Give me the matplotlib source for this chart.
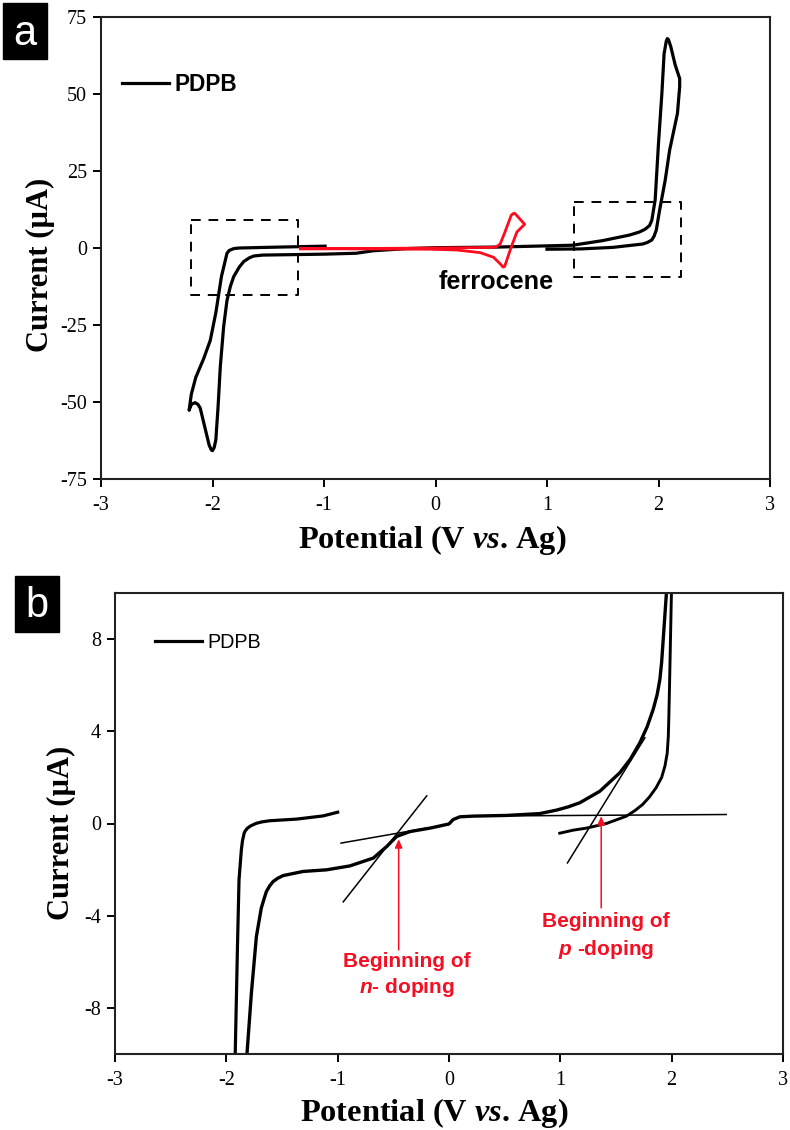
import matplotlib
matplotlib.use("Agg")
import matplotlib.pyplot as plt

plt.rcParams["font.family"] = "Liberation Sans"
plt.rcParams["axes.unicode_minus"] = False
plt.rcParams["mathtext.fontset"] = "custom"
plt.rcParams["mathtext.it"] = "Liberation Sans:italic:bold"
plt.rcParams["mathtext.bfit"] = "Liberation Serif:italic:bold"

# --- panel a ---
a_v = [-0.99, -1.4, -1.76, -1.81, -1.85, -1.87, -1.92, -1.97, -2.02, -2.08, -2.15, -2.19, -2.21, -2.19, -2.157, -2.13,
       -2.11, -2.07, -2.03, -2.01, -2.0, -1.985, -1.97, -1.95, -1.93, -1.90, -1.87, -1.84, -1.81, -1.76, -1.72, -1.67,
       -1.63, -1.55, -1.0, -0.71, -0.56, -0.26,
       0.0, 0.55, 1.23, 1.50, 1.74, 1.83, 1.88, 1.92, 1.94, 1.97, 2.0, 2.03, 2.05, 2.07, 2.08, 2.09, 2.11, 2.15, 2.19,
       2.19, 2.17, 2.10, 2.06, 2.01, 1.98, 1.96, 1.94, 1.90, 1.86, 1.59, 1.30, 1.0]
a_i = [0.6, 0.3, 0.0, -0.2, -0.8, -1.7, -9.3, -21, -30, -36, -42, -47.5, -52.7, -50.8, -50.2, -50.8,
       -52, -58, -64, -65.6, -65.8, -64.8, -62.3, -51.5, -38.5, -25.5, -17, -12.5, -9.3, -6.2, -4.4, -3.2,
       -2.6, -2.3, -2.0, -1.7, -0.9, -0.2,
       0.1, 0.3, 0.9, 2.4, 4.2, 5.2, 6.1, 7.3, 9, 15.6, 34, 50, 63, 67.2, 68, 67.6, 65.4, 59.4, 55,
       52.4, 43.7, 31.8, 22, 12.3, 5.8, 3.8, 2.6, 1.8, 1.3, 0.2, -0.3, -0.4]
fc_v = [-1.21, 0.0, 0.52, 0.55, 0.58, 0.62, 0.68, 0.70, 0.71, 0.80, 0.73, 0.68, 0.62, 0.605, 0.59, 0.52, 0.40, 0.19,
        -0.05, -1.21]
fc_i = [-0.3, 0.0, 0.2, 0.5, 1.3, 4.9, 10.7, 11.2, 11.3, 7.7, 5.2, 0.4, -6, -6.2, -5.5, -3, -1.5, -0.65, -0.4, -0.2]
box_l_v = [-2.19, -1.23, -1.23, -2.19, -2.19]
box_l_i = [9.1, 9.1, -15.2, -15.2, 9.1]
box_r_v = [1.24, 2.20, 2.20, 1.24, 1.24]
box_r_i = [14.8, 14.8, -9.3, -9.3, 14.8]

# --- panel b ---
b_v = [-1.0, -1.13, -1.37, -1.61, -1.68, -1.73, -1.78, -1.81, -1.83, -1.84, -1.855, -1.865, -1.886, -1.90, -1.92,
       -1.95]
b_i = [0.49, 0.33, 0.19, 0.12, 0.07, 0.01, -0.1, -0.2, -0.32, -0.42, -0.75, -1.14, -2.44, -5.34, -9.96, -10.5]
b_ret_v = [-1.80, -1.814, -1.775, -1.73, -1.686, -1.66, -1.64, -1.61, -1.58, -1.54, -1.49, -1.31, -1.10, -0.89, -0.68,
           -0.56, -0.47, -0.35, -0.17, 0.0, 0.037, 0.097, 0.216, 0.516, 0.815, 0.965, 1.07, 1.175, 1.355, 1.534, 1.63,
           1.714, 1.78, 1.834, 1.87, 1.894, 1.91, 1.924, 1.96]
b_ret_i = [-10.5, -9.96, -7.36, -4.9, -3.67, -3.25, -2.95, -2.7, -2.52, -2.38, -2.26, -2.08, -2.01, -1.84, -1.5,
           -1.0, -0.56, -0.35, -0.2, -0.02, 0.17, 0.29, 0.32, 0.35, 0.43, 0.58, 0.72, 0.9, 1.4, 2.2, 2.8,
           3.5, 4.2, 4.95, 5.6, 6.25, 7.0, 7.98, 10.5]
b_p_v = [2.0, 1.98, 1.975, 1.97, 1.96, 1.94, 1.91, 1.86, 1.80, 1.74, 1.67, 1.594, 1.414, 1.235, 1.115, 0.995]
b_p_i = [10.5, 5.8, 4.7, 3.8, 3.05, 2.5, 2.0, 1.55, 1.15, 0.83, 0.56, 0.32, 0.0, -0.2, -0.29, -0.42]
tan_n_base_v, tan_n_base_i = [-0.97, -0.2], [-0.85, -0.2]
tan_n_v, tan_n_i = [-0.95, -0.2], [-3.4, 1.2]
tan_p_v, tan_p_i = [1.064, 1.76], [-1.71, 3.72]
tan_h_v, tan_h_i = [0.5, 2.49], [0.33, 0.39]

W, H = 790, 1130
RED = "#f50f23"


def px_axes(fig, left, top, right, bottom):
    return fig.add_axes([left / W, 1 - bottom / H, (right - left) / W, (bottom - top) / H])


def style(ax):
    for s in ax.spines.values():
        s.set_linewidth(1.5)
        s.set_color("#222222")
    ax.tick_params(direction="out", length=6, width=1.4, pad=4)
    ax.tick_params(axis="x", pad=6)
    for lab in ax.get_xticklabels() + ax.get_yticklabels():
        lab.set_family("Liberation Serif")
        lab.set_fontsize(14.5)


def labels(ax):
    ax.set_xlabel(r"Potential (V $\mathbfit{vs}$. Ag)", family="Liberation Serif", weight="bold", fontsize=23.3)
    ax.set_ylabel("Current (µA)", family="Liberation Serif", weight="bold", fontsize=22)


fig = plt.figure(figsize=(W / 100, H / 100), dpi=100)

# panel a
ax = px_axes(fig, 101, 17, 770, 479)
ax.plot(a_v, a_i, color="black", lw=2.3, label="PDPB", solid_joinstyle="round")
ax.plot(fc_v, fc_i, color="#ff0a1e", lw=2.0, solid_joinstyle="round")
for v, i in [(box_l_v, box_l_i), (box_r_v, box_r_i)]:
    ax.plot(v, i, color="black", lw=1.4, ls=(0, (5, 4)))
ax.set_xlim(-3, 3)
ax.set_ylim(-75, 75)
ax.set_xticks([-3, -2, -1, 0, 1, 2, 3])
ax.set_yticks([-75, -50, -25, 0, 25, 50, 75])
style(ax)
labels(ax)
ax.xaxis.set_label_coords((432 - 101) / 669, -44 / 462)
ax.yaxis.set_label_coords((55 - 101) / 669, 0.463)
ax.legend(loc="upper left", bbox_to_anchor=(0.031, 0.878), frameon=False, handlelength=2.08, handletextpad=0.27,
          borderpad=0, borderaxespad=0, prop={"family": "Liberation Sans", "weight": "bold", "size": 16.3})
ax.text(0.54, -11.0, "ferrocene", fontsize=18.2, fontweight="bold", ha="center", va="center")

# panel b
ax = px_axes(fig, 115, 593, 783, 1054)
ax.plot(b_v, b_i, color="black", lw=2.3, label="PDPB", solid_joinstyle="round")
ax.plot(b_ret_v, b_ret_i, color="black", lw=2.4, solid_joinstyle="round")
ax.plot(b_p_v, b_p_i, color="black", lw=2.1, solid_joinstyle="round")
for v, i in [(tan_n_base_v, tan_n_base_i), (tan_n_v, tan_n_i), (tan_p_v, tan_p_i), (tan_h_v, tan_h_i)]:
    ax.plot(v, i, color="black", lw=1.1)
ax.annotate("", xy=(-0.452, -0.68), xytext=(-0.452, -5.48),
            arrowprops=dict(arrowstyle="-|>,head_width=0.22,head_length=0.5", color=RED, lw=1.1, shrinkA=0, shrinkB=0))
ax.annotate("", xy=(1.367, 0.32), xytext=(1.367, -3.66),
            arrowprops=dict(arrowstyle="-|>,head_width=0.22,head_length=0.5", color=RED, lw=1.1, shrinkA=0, shrinkB=0))
ax.text(-0.375, -6.0, "Beginning of", color=RED, fontsize=15, fontweight="bold", ha="center", va="center")
ax.text(-0.375, -7.1, r"$\mathit{n}$- doping", color=RED, fontsize=15, fontweight="bold", ha="center", va="center")
ax.text(1.41, -4.27, "Beginning of", color=RED, fontsize=15, fontweight="bold", ha="center", va="center")
ax.text(1.41, -5.45, r"$\mathit{p}$ -doping", color=RED, fontsize=15, fontweight="bold", ha="center", va="center")
ax.set_xlim(-3, 3)
ax.set_ylim(-10, 10)
ax.set_xticks([-3, -2, -1, 0, 1, 2, 3])
ax.set_yticks([-8, -4, 0, 4, 8])
style(ax)
labels(ax)
ax.xaxis.set_label_coords((434 - 115) / 668, -42 / 461)
ax.yaxis.set_label_coords((76 - 115) / 668, 0.479)
ax.legend(loc="upper left", bbox_to_anchor=(0.06, 0.914), frameon=False, handlelength=2.37, handletextpad=0.27,
          borderpad=0, borderaxespad=0, prop={"family": "Liberation Sans", "size": 14.2})

# panel letters
for letter, x0, y0, x1, y1, cy in [("a", 3, 3, 47, 59, 34), ("b", 15, 576, 59, 632, 606)]:
    fig.patches.append(plt.Rectangle((x0 / W, 1 - y1 / H), (x1 - x0) / W, (y1 - y0) / H, transform=fig.transFigure,
                                     color="black"))
    fig.text((x0 + x1) / 2 / W, 1 - cy / H, letter, color="white", fontsize=30, ha="center", va="center")

fig.savefig("out.png", dpi=100)
